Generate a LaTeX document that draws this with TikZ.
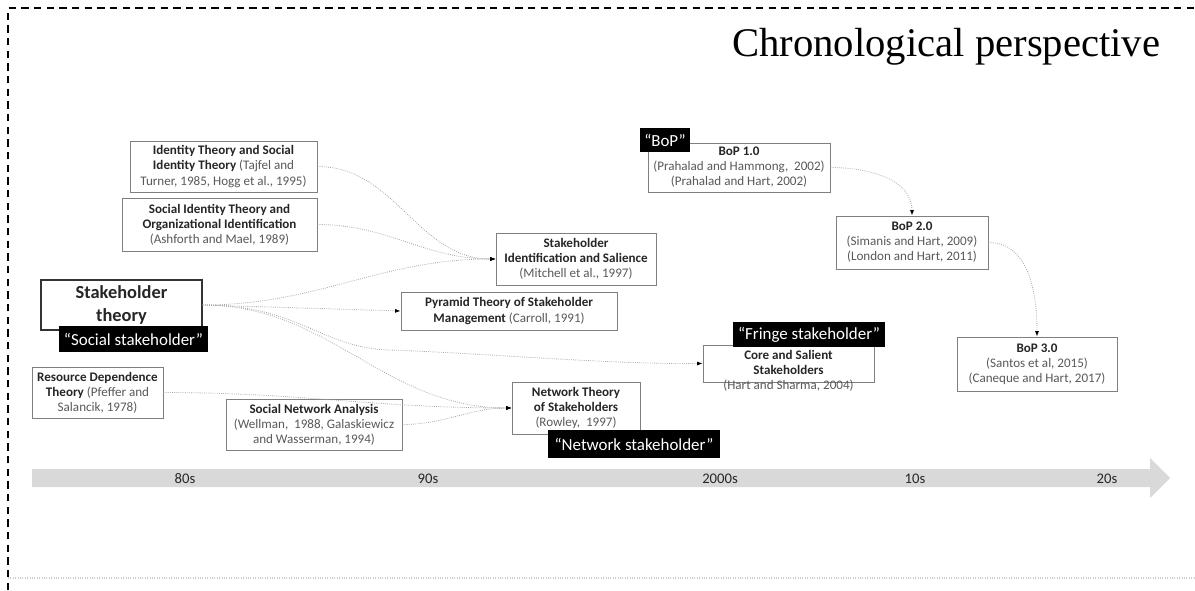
\documentclass[tikz,border=0pt]{standalone}
\usepackage{fontspec}
\setmainfont{Carlito}
\newfontfamily\titlefont{Liberation Serif}
\usetikzlibrary{arrows.meta, calc}
\definecolor{boxline}{HTML}{7F7F7F}
\definecolor{reftext}{HTML}{595959}
\definecolor{headtext}{HTML}{262626}
\definecolor{linkgray}{HTML}{A6A6A6}
\definecolor{bandgray}{HTML}{D9D9D9}
\newcommand{\hd}[1]{\textbf{\color{headtext}#1}}
\newcommand{\rf}[1]{{\color{reftext}#1}}

\begin{document}
\begin{tikzpicture}[
			x = 0.75pt, y = -0.75pt,
			theorybox/.style = {draw = boxline, line width = 0.7pt, fill = white, align = center,
				inner sep = 1pt, font = \fontsize{9.8}{11.3}\selectfont},
			tagbox/.style = {fill = black, text = white, inner sep = 0pt,
				font = \fontsize{12.7}{14}\selectfont},
			link/.style = {draw = linkgray, densely dotted, line width = 0.6pt,
				-{Latex[black, length = 4pt, width = 3pt]}},
			decade/.style = {font = \fontsize{11}{12}\selectfont, text = headtext}]
			\useasboundingbox (0,0) rectangle (1195,590);
			% frame
			\draw[line width = 1.4pt, dash pattern = on 5.5pt off 4pt] (8,590) -- (8,8) -- (1195,8);
			\draw[gray!40, densely dotted, line width = 0.8pt] (8,578) -- (1195,578);
			\node[anchor = base east, font = \titlefont\fontsize{30.5}{32}\selectfont] (title) at (1165,56) {Chronological perspective};
	
			% timeline
			\fill[bandgray] (32,469) -- (1150,469) -- (1150,458) -- (1170,478) -- (1150,498) -- (1150,487) -- (32,487) -- cycle;
			\node[decade] (d80) at (185,479) {80s};
			\node[decade] (d90) at (428,479) {90s};
			\node[decade] (d00) at (720,479) {2000s};
			\node[decade] (d10) at (915,479) {10s};
			\node[decade] (d20) at (1107,479) {20s};
	
			% theories
			\node[theorybox, minimum width = 187*0.75pt, minimum height = 51*0.75pt] (idt) at (223.5,166.5)
				{\hd{Identity Theory and Social}\\ \hd{Identity Theory} \rf{(Tajfel and}\\ \rf{Turner, 1985, Hogg et al., 1995)}};
			\node[theorybox, minimum width = 195*0.75pt, minimum height = 53*0.75pt] (sit) at (219.5,224.5)
				{\hd{Social Identity Theory and}\\ \hd{Organizational Identification}\\ \rf{(Ashforth and Mael, 1989)}};
			\node[theorybox, minimum width = 161*0.75pt, minimum height = 50*0.75pt, line width = 1pt, draw = black!80,
				font = \fontsize{13.8}{17}\selectfont] (sht) at (121.5,305)
				{\hd{Stakeholder}\\ \hd{theory}};
			\node[theorybox, minimum width = 131*0.75pt, minimum height = 51*0.75pt] (rdt) at (97.5,392.5)
				{\hd{Resource Dependence}\\ \hd{Theory} \rf{(Pfeffer and}\\ \rf{Salancik, 1978)}};
			\node[theorybox, minimum width = 176*0.75pt, minimum height = 51*0.75pt] (sna) at (314,424.5)
				{\hd{Social Network Analysis}\\ \rf{(Wellman,~ 1988, Galaskiewicz}\\ \rf{and Wasserman, 1994)}};
			\node[theorybox, minimum width = 160*0.75pt, minimum height = 52*0.75pt] (sis) at (576,259)
				{\hd{Stakeholder}\\ \hd{Identification and Salience}\\ \rf{(Mitchell et al., 1997)}};
			\node[theorybox, minimum width = 216*0.75pt, minimum height = 38*0.75pt] (pyr) at (509,311)
				{\hd{Pyramid Theory of Stakeholder}\\ \hd{Management} \rf{(Carroll, 1991)}};
			\node[theorybox, minimum width = 128*0.75pt, minimum height = 52*0.75pt] (ntw) at (576,408)
				{\hd{Network Theory}\\ \hd{of Stakeholders}\\ \rf{(Rowley,~ 1997)}};
			\node[theorybox, minimum width = 171*0.75pt, minimum height = 37*0.75pt] (core) at (788.5,363.5) {};
			\node[align = center, inner sep = 0pt, font = \fontsize{9.8}{11.3}\selectfont] (coretext) at (788.5,371)
				{\hd{Core and Salient}\\ \hd{Stakeholders}\\ \rf{(Hart and Sharma, 2004)}};
			\node[theorybox, minimum width = 182*0.75pt, minimum height = 49*0.75pt] (bop1) at (739,167.5)
				{\hd{BoP 1.0}\\ \rf{(Prahalad and Hammong,~ 2002)}\\ \rf{(Prahalad and Hart, 2002)}};
			\node[theorybox, minimum width = 152*0.75pt, minimum height = 53*0.75pt] (bop2) at (912,242.5)
				{\hd{BoP 2.0}\\ \rf{(Simanis and Hart, 2009)}\\ \rf{(London and Hart, 2011)}};
			\node[theorybox, minimum width = 160*0.75pt, minimum height = 54*0.75pt] (bop3) at (1037,364)
				{\hd{BoP 3.0}\\ \rf{(Santos et al, 2015)}\\ \rf{(Caneque and Hart, 2017)}};
	
			% Labels
			\node[tagbox, minimum width = 149*0.75pt, minimum height = 26*0.75pt] (socialtag) at (133.5,339) {``Social stakeholder''};
			\node[tagbox, minimum width = 172*0.75pt, minimum height = 28*0.75pt] (networktag) at (634,444) {``Network stakeholder''};
			\node[tagbox, minimum width = 152*0.75pt, minimum height = 25*0.75pt] (fringetag) at (809,334.5) {``Fringe stakeholder''};
			\node[tagbox, minimum width = 50*0.75pt, minimum height = 24*0.75pt] (boptag) at (665,140) {``BoP''};
	
			% links
			\draw[link] (idt.east) to[out = 0, in = 180] (sis.west);
			\draw[link] (sit.east) to[out = 0, in = 180] (sis.west);
			\draw[link] (sht.east) to[out = 0, in = 180] (sis.west);
			\draw[link] (sht.east) -- (pyr.west);
			\draw[link] (sht.east) .. controls (300,305) and (320,348) .. (390,350) .. controls (500,354) and (600,364) .. (core.west);
			\draw[link] (sht.east) to[out = 0, in = 180] (ntw.west);
			\draw[link] (rdt.east) to[out = 0, in = 180] (ntw.west);
			\draw[link] (sna.east) to[out = 0, in = 180] (ntw.west);
			\draw[link] (bop1.east) to[out = 0, in = 90] (bop2.north);
			\draw[link] (bop2.east) to[out = 0, in = 90] (bop3.north);
		\end{tikzpicture}
\end{document}
